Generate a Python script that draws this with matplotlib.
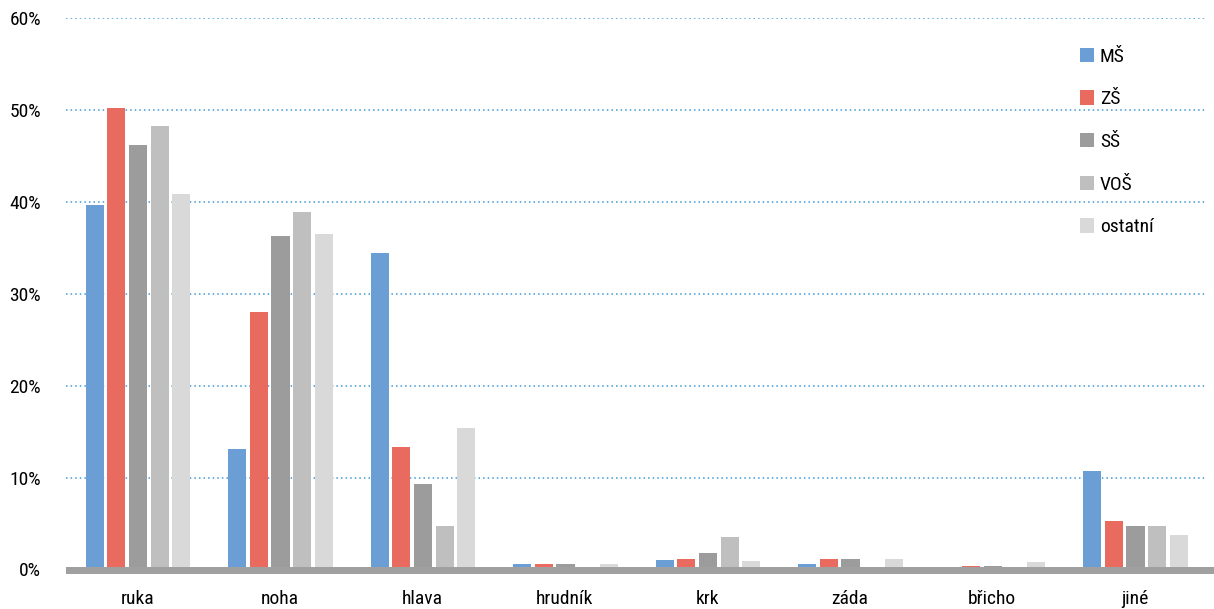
import matplotlib
matplotlib.use("Agg")
import matplotlib.pyplot as plt
from matplotlib import font_manager
from matplotlib.patches import Patch
import numpy as np

categories = ["ruka", "noha", "hlava", "hrudník", "krk", "záda", "břicho", "jiné"]
series_names = ["MŠ", "ZŠ", "SŠ", "VOŠ", "ostatní"]
ms = [39.7, 13.1, 34.4, 0.65, 1.0, 0.65, 0.0, 10.7]
zs = [50.2, 28.0, 13.3, 0.65, 1.1, 1.1, 0.4, 5.3]
ss = [46.2, 36.3, 9.3, 0.65, 1.8, 1.1, 0.4, 4.7]
vos = [48.2, 38.9, 4.7, 0.0, 3.5, 0.0, 0.0, 4.7]
ostatni = [40.9, 36.5, 15.4, 0.65, 0.95, 1.1, 0.8, 3.7]
yticks = [0, 10, 20, 30, 40, 50, 60]
ytick_labels = ["0%", "10%", "20%", "30%", "40%", "50%", "60%"]

colors = ["#6A9ED5", "#E96B60", "#9C9C9C", "#BFBFBF", "#D9D9D9"]

regular = {}
for f in font_manager.fontManager.ttflist:
    if f.style == "normal" and f.weight in (400, "normal", "regular", "book"):
        regular[f.name] = f
fam = "DejaVu Sans"
for cand in ["Liberation Sans Narrow", "Open Sans Condensed", "Roboto Condensed", "Noto Sans", "Liberation Sans"]:
    if cand in regular:
        fam = cand
        break
plt.rcParams["font.family"] = [fam, "DejaVu Sans"]
plt.rcParams["font.weight"] = "normal"

fig = plt.figure(figsize=(12.14, 6.09), dpi=100)
ax = fig.add_axes([66/1214, (609-569.5)/609, (1206-66)/1214, (569.5-18)/609])

data = [ms, zs, ss, vos, ostatni]
x = np.arange(len(categories))
slot = 0.152
bw = 0.127
for i, (vals, c) in enumerate(zip(data, colors)):
    ax.bar(x + (i - 2) * slot + 0.005, vals, width=bw, color=c, zorder=2)

ax.set_xlim(-0.5, len(categories) - 0.5)
ax.set_ylim(0, 60)
for y in yticks[1:]:
    ax.axhline(y, color="#3A9AD9", linestyle=(0, (1, 2)), linewidth=1.1, zorder=1)
ax.set_yticks(yticks)
ax.set_yticklabels(ytick_labels, fontsize=14, fontweight="normal", color="black")
ax.set_xticks(x)
ax.set_xticklabels(categories, fontsize=14, fontweight="normal", color="black")
ax.tick_params(axis="both", length=0)
ax.tick_params(axis="y", pad=18)
ax.tick_params(axis="x", pad=15)
for s in ax.spines.values():
    s.set_visible(False)

# baseline band (thick horizontal axis line)
ax.fill_between([-0.5, len(categories) - 0.5 + 0.06], -0.49, 0.3, color="#A0A0A0",
                linewidth=0, zorder=3, clip_on=False)

handles = [Patch(facecolor=c, edgecolor="none") for c in colors]
leg = fig.legend(handles, series_names, loc="upper left", bbox_to_anchor=(1062/1214, 1 - 30/609),
                 frameon=False, prop={"size": 14, "weight": "normal"}, handlelength=0.75, handleheight=0.75,
                 handletextpad=0.3, labelspacing=1.27)

fig.savefig("out.png", dpi=100)
